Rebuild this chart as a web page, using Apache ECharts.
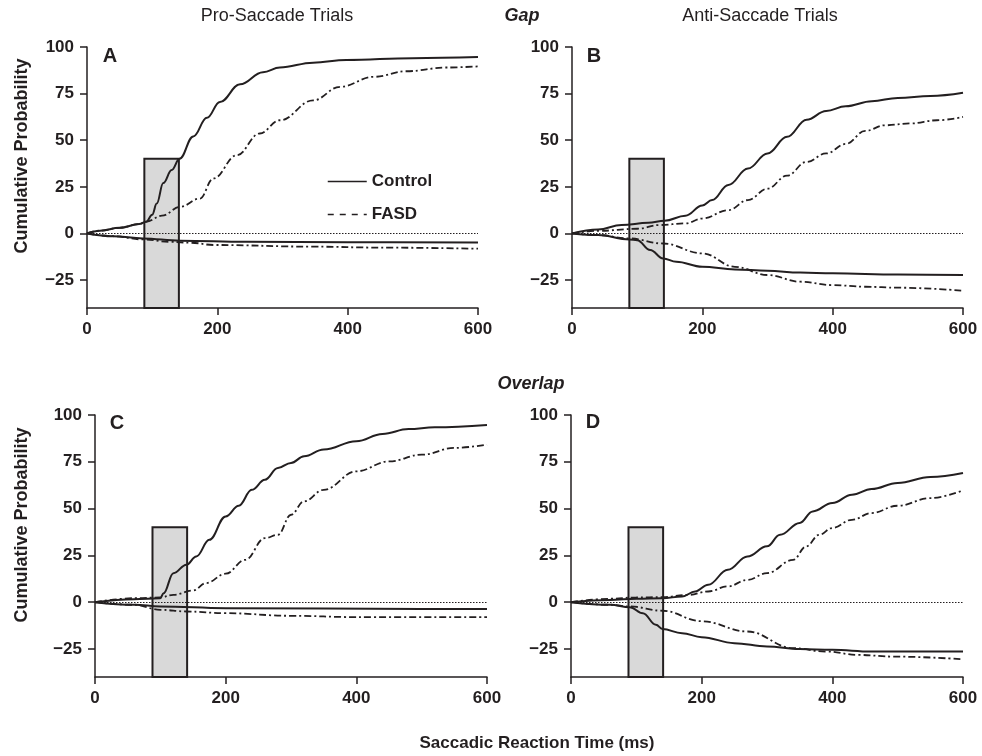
<!DOCTYPE html>
<html>
<head>
<meta charset="utf-8">
<script src="https://cdn.jsdelivr.net/npm/echarts@6/dist/echarts.min.js"></script>
<style>
  html, body { margin: 0; padding: 0; background: #fff; }
  #chart { width: 982px; height: 756px; }
</style>
</head>
<body>
<div id="chart"></div>
<script>
// x ticks (ms) and y ticks (%)
const xTicks = [0, 200, 400, 600];
const yTicks = [-25, 0, 25, 50, 75, 100];
// shaded express-saccade window [ms from, ms to, bottom, top]
const windowBox = [88, 141, -40, 40];

// A: gap, pro-saccade
const gapProCtrlUp = [[0,0],[20,1.5],[50,3],[80,5],[91,6.3],[100,10],[107,16],[117,27],[130,34],[142,40],[163,52],[184,62],[204,70.5],[235,80],[270,86.5],[296,89],[347,91.6],[398,93],[500,94],[600,94.6]];
const gapProFasdUp = [[0,0],[20,1.5],[50,3],[80,5],[91,6.3],[115,9.5],[143,14.3],[173,18.7],[194,29.5],[230,42],[265,53.6],[296,60.7],[347,71.4],[388,78.6],[440,84],[490,87],[552,89],[600,89.6]];
const gapProCtrlDown = [[0,0],[40,-1.5],[86,-2.7],[143,-3.9],[245,-4.5],[400,-4.7],[600,-4.8]];
const gapProFasdDown = [[0,0],[40,-1.5],[86,-3.2],[127,-4.5],[160,-5],[194,-6.2],[347,-7.1],[450,-7.6],[600,-8.2]];

// B: gap, anti-saccade
const gapAntiCtrlUp = [[0,0],[40,2.1],[76,4.5],[117,5.7],[142,6.8],[174,9.5],[200,15],[215,17.9],[240,26],[270,34.8],[300,42.9],[330,51.8],[360,61],[390,65.7],[420,68.2],[460,70.9],[500,72.7],[550,73.7],[600,75.4]];
const gapAntiFasdUp = [[0,0],[40,1.4],[100,2.5],[134,4.5],[174,5.4],[200,8],[240,12.5],[270,17.9],[300,24],[330,31],[360,38.4],[390,42.9],[420,48],[450,55],[480,58],[520,59],[560,60.7],[600,62.5]];
const gapAntiCtrlDown = [[0,0],[40,-0.9],[88,-3.2],[100,-3.6],[120,-8.9],[140,-13.4],[160,-15.2],[200,-17.9],[250,-19.3],[300,-20],[350,-21],[400,-21.4],[500,-22],[600,-22.3]];
const gapAntiFasdDown = [[0,0],[40,-0.9],[88,-2.7],[140,-5.4],[200,-10.7],[250,-17.9],[300,-22.3],[350,-25.9],[400,-27.7],[450,-28.6],[500,-29.1],[600,-30.7]];

// C: overlap, pro-saccade
const ovlProCtrlUp = [[0,0],[60,1.6],[100,2.1],[105,4.8],[120,15.5],[140,20],[155,24.4],[175,33.3],[200,45.8],[220,51.5],[240,60],[260,65.4],[280,71.7],[300,74.4],[320,77.9],[350,81.5],[400,86],[440,89.9],[480,92.5],[520,93.4],[600,94.7]];
const ovlProFasdUp = [[0,0],[60,2.1],[100,2.5],[120,3.9],[150,6.2],[170,10.2],[200,15.2],[230,22.6],[260,34.2],[280,36],[300,46.7],[320,53.9],[350,60],[400,69.9],[450,75.2],[500,78.8],[550,82.4],[600,84.2]];
const ovlProCtrlDown = [[0,0],[60,-1.4],[100,-2.3],[200,-3.2],[500,-3.7],[600,-3.7]];
const ovlProFasdDown = [[0,0],[60,-1.4],[100,-4.1],[140,-5],[200,-5.9],[300,-7.3],[400,-8],[600,-8]];

// D: overlap, anti-saccade
const ovlAntiCtrlUp = [[0,0],[60,1.2],[100,1.8],[140,2.1],[170,3],[190,5.7],[210,9.3],[240,17.3],[270,24.4],[300,29.8],[320,36],[350,42.3],[370,48.5],[400,53],[430,57.4],[460,60.4],[500,63.7],[550,66.9],[600,69]];
const ovlAntiFasdUp = [[0,0],[60,1.8],[100,2.5],[140,2.7],[180,3.9],[210,5.7],[240,8.4],[270,11.9],[300,15.5],[340,22.6],[360,29.8],[380,36],[400,39.6],[430,44],[460,47.6],[500,51.5],[550,55.6],[600,59.7]];
const ovlAntiCtrlDown = [[0,0],[60,-1.4],[90,-2.7],[110,-5.9],[130,-12.1],[140,-14.4],[170,-16.6],[200,-18.7],[250,-21.9],[300,-23.7],[350,-25],[400,-25.5],[460,-26.4],[600,-26.4]];
const ovlAntiFasdDown = [[0,0],[60,-1.4],[90,-2.3],[140,-4.6],[200,-10.2],[270,-15.7],[340,-24.6],[390,-26.4],[440,-28.2],[495,-29.1],[600,-30.5]];

const panels = [
  { ctrl: [gapProCtrlUp, gapProCtrlDown], fasd: [gapProFasdUp, gapProFasdDown] },
  { ctrl: [gapAntiCtrlUp, gapAntiCtrlDown], fasd: [gapAntiFasdUp, gapAntiFasdDown] },
  { ctrl: [ovlProCtrlUp, ovlProCtrlDown], fasd: [ovlProFasdUp, ovlProFasdDown] },
  { ctrl: [ovlAntiCtrlUp, ovlAntiCtrlDown], fasd: [ovlAntiFasdUp, ovlAntiFasdDown] }
];

const INK = '#231f20';
const FONT = 'Liberation Sans, Arial, sans-serif';
const dashDot = [7, 3, 2, 3];

const grids = [
  { left: 87, top: 47, width: 391, height: 261 },
  { left: 572, top: 47, width: 391, height: 261 },
  { left: 95, top: 415, width: 392, height: 262 },
  { left: 571, top: 415, width: 392, height: 262 }
];

const axisLine = { show: true, onZero: false, lineStyle: { color: INK, width: 1.5 } };
const axisTick = { show: true, inside: false, length: 7, lineStyle: { color: INK, width: 1.5 } };

const xAxes = grids.map((_, i) => ({
  type: 'value', gridIndex: i, min: 0, max: 600, interval: 200,
  axisLine, splitLine: { show: false },
  axisTick: { ...axisTick, customValues: xTicks },
  axisLabel: { customValues: xTicks, color: INK, fontFamily: FONT, fontWeight: 'bold', fontSize: 17, margin: 13 }
}));

const yAxes = grids.map((_, i) => ({
  type: 'value', gridIndex: i, min: -40, max: 100,
  axisLine, splitLine: { show: false },
  axisTick: { ...axisTick, customValues: yTicks },
  axisLabel: {
    customValues: yTicks, color: INK, fontFamily: FONT, fontWeight: 'bold', fontSize: 17, margin: 13,
    formatter: v => String(v).replace('-', '\u2212')
  }
}));

const series = [];
panels.forEach((p, i) => {
  // background: shaded window and dotted zero line
  series.push({
    type: 'line', xAxisIndex: i, yAxisIndex: i, data: [], z: 1, silent: true,
    markArea: {
      silent: true,
      itemStyle: { color: '#d9d9d9', borderColor: INK, borderWidth: 2 },
      data: [[{ coord: [windowBox[0], windowBox[2]] }, { coord: [windowBox[1], windowBox[3]] }]]
    },
    markLine: {
      silent: true, symbol: 'none', label: { show: false },
      lineStyle: { color: INK, type: [1.5, 1.5], width: 1 },
      data: [{ yAxis: 0 }]
    }
  });
  p.ctrl.forEach(d => series.push({
    name: 'Control', type: 'line', xAxisIndex: i, yAxisIndex: i, data: d, z: 3,
    symbol: 'none', smooth: 0.4, smoothMonotone: 'x',
    lineStyle: { color: INK, width: 2 }, itemStyle: { color: INK }
  }));
  p.fasd.forEach(d => series.push({
    name: 'FASD', type: 'line', xAxisIndex: i, yAxisIndex: i, data: d, z: 3,
    symbol: 'none', smooth: 0.4, smoothMonotone: 'x',
    lineStyle: { color: INK, width: 1.8, type: dashDot }, itemStyle: { color: INK }
  }));
});

const txt = (x, y, text, style, rotation) => ({
  type: 'text', x, y, rotation: rotation || 0,
  style: { text, fill: INK, fontFamily: FONT, align: 'center', verticalAlign: 'middle', ...style }
});

// legend symbol is hidden so only the line sample shows
const noMarker = { color: 'transparent', borderColor: 'transparent', borderWidth: 0, opacity: 0 };

const chart = echarts.init(document.getElementById('chart'), null, { renderer: 'canvas' });
chart.setOption({
  animation: false,
  backgroundColor: '#fff',
  grid: grids,
  xAxis: xAxes,
  yAxis: yAxes,
  legend: {
    left: 322, top: 168, orient: 'vertical', itemWidth: 39, itemHeight: 14, itemGap: 16,
    selectedMode: false,
    textStyle: { color: INK, fontFamily: FONT, fontWeight: 'bold', fontSize: 17 },
    data: [
      { name: 'Control', itemStyle: noMarker, lineStyle: { type: 'solid', width: 1.5, opacity: 1 } },
      { name: 'FASD', itemStyle: noMarker, lineStyle: { type: [6, 6], width: 1.5, opacity: 1 } }
    ]
  },
  series,
  graphic: [
    txt(277, 16, 'Pro-Saccade Trials', { fontSize: 18 }),
    txt(522, 16, 'Gap', { fontSize: 18, fontWeight: 'bold', fontStyle: 'italic' }),
    txt(760, 16, 'Anti-Saccade Trials', { fontSize: 18 }),
    txt(531, 384, 'Overlap', { fontSize: 18, fontWeight: 'bold', fontStyle: 'italic' }),
    txt(537, 743, 'Saccadic Reaction Time (ms)', { fontSize: 17, fontWeight: 'bold' }),
    txt(22, 156, 'Cumulative Probability', { fontSize: 18, fontWeight: 'bold' }, Math.PI / 2),
    txt(22, 525, 'Cumulative Probability', { fontSize: 18, fontWeight: 'bold' }, Math.PI / 2),
    txt(110, 56, 'A', { fontSize: 20, fontWeight: 'bold' }),
    txt(594, 56, 'B', { fontSize: 20, fontWeight: 'bold' }),
    txt(117, 423, 'C', { fontSize: 20, fontWeight: 'bold' }),
    txt(593, 422, 'D', { fontSize: 20, fontWeight: 'bold' })
  ]
});
</script>
</body>
</html>
